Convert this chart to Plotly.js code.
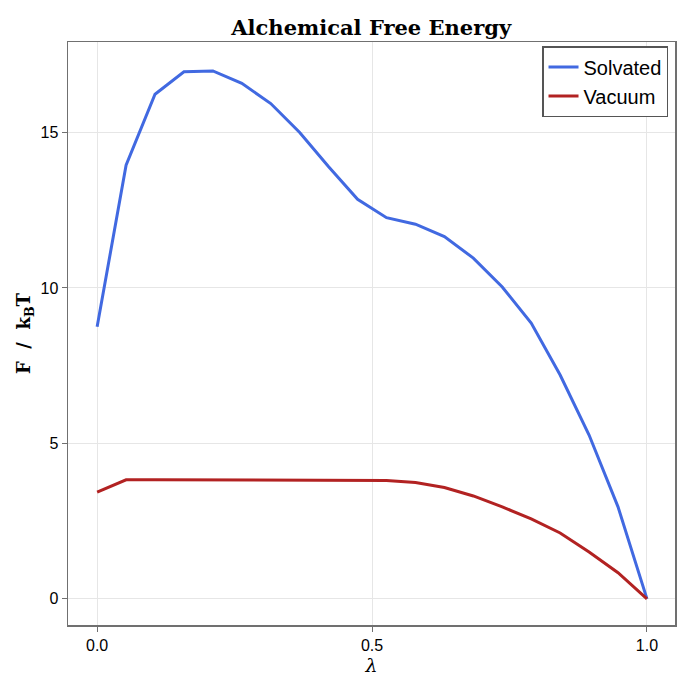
<!DOCTYPE html>
<html>
<head>
<meta charset="utf-8">
<script src="https://cdn.plot.ly/plotly-3.0.1.min.js"></script>
<style>html,body{margin:0;padding:0;background:#fff;}#chart{width:690px;height:690px;}</style>
</head>
<body>
<div id="chart"></div>
<script>
// lambda grid: 20 windows
const lambdaIndex = [0,1,2,3,4,5,6,7,8,9,10,11,12,13,14,15,16,17,18,19];
const lambdaCount = 19;
const solvated = [8.75, 13.95, 16.23, 16.95, 16.98, 16.58, 15.93, 15.0, 13.9, 12.85, 12.26, 12.05, 11.65, 10.96, 10.03, 8.87, 7.2, 5.27, 2.96, 0.0];
const vacuum = [3.43, 3.83, 3.83, 3.83, 3.83, 3.83, 3.83, 3.83, 3.83, 3.83, 3.81, 3.74, 3.58, 3.31, 2.96, 2.57, 2.12, 1.51, 0.84, 0.0];
const xTickVals = [0, 0.5, 1];
const xTickText = ["0.0", "0.5", "1.0"];
const yTickVals = [0, 5, 10, 15];
const yTickText = ["0", "5", "10", "15"];

const lambda = lambdaIndex.map(k => k / lambdaCount);

const traces = [
  {x: lambda, y: solvated, type: 'scatter', mode: 'lines', name: 'Solvated',
   line: {color: '#4169E1', width: 3}},
  {x: lambda, y: vacuum, type: 'scatter', mode: 'lines', name: 'Vacuum',
   line: {color: '#B22222', width: 3}}
];

const axisCommon = {
  showline: true, mirror: true, linecolor: '#707070', linewidth: 1.5,
  showgrid: true, gridcolor: '#e6e6e6', gridwidth: 1,
  zeroline: false, ticks: 'outside', ticklen: 5, tickcolor: '#707070', tickwidth: 1,
  tickfont: {family: 'Liberation Sans, Arial, sans-serif', size: 16, color: '#000'}
};

const layout = {
  width: 690, height: 690,
  margin: {l: 68, r: 15, t: 42, b: 65},
  paper_bgcolor: '#fff', plot_bgcolor: '#fff',
  title: {text: '<b>Alchemical Free Energy</b>', x: 0.538, xanchor: 'center', y: 0.96, yanchor: 'middle',
          font: {family: 'DejaVu Serif, serif', size: 21, color: '#000'}},
  xaxis: Object.assign({}, axisCommon, {
    range: [-0.053, 1.051], tickvals: xTickVals, ticktext: xTickText,
    title: {text: '<i>λ</i>', standoff: 4, font: {family: 'DejaVu Serif, serif', size: 19, color: '#000'}}
  }),
  yaxis: Object.assign({}, axisCommon, {
    range: [-0.84, 17.91], tickvals: yTickVals, ticktext: yTickText,
    title: {text: '<b>F  /  k<sub>B</sub>T</b>', standoff: 5, font: {family: 'DejaVu Serif, serif', size: 18, color: '#000'}}
  }),
  showlegend: true,
  legend: {x: 0.9885, xanchor: 'right', y: 0.993, yanchor: 'top',
           bgcolor: '#fff', bordercolor: '#555', borderwidth: 1.5,
           font: {family: 'Liberation Sans, Arial, sans-serif', size: 20, color: '#000'},
           itemwidth: 30, tracegroupgap: 0}
};

Plotly.newPlot('chart', traces, layout, {displayModeBar: false, staticPlot: true});
</script>
</body>
</html>
